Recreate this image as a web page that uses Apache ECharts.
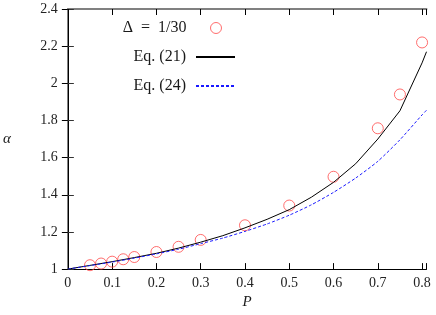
<!DOCTYPE html>
<html>
<head>
<meta charset="utf-8">
<script src="https://cdn.jsdelivr.net/npm/echarts@6/dist/echarts.min.js"></script>
<style>html,body{margin:0;padding:0;background:#fff}#c{width:436px;height:315px}</style>
</head>
<body>
<div id="c"></div>
<script>
// Simulation points, Delta = 1/30
const simP     = [0.05, 0.075, 0.1, 0.125, 0.15, 0.2, 0.25, 0.3, 0.4, 0.5, 0.6, 0.7, 0.75, 0.8];
const simAlpha = [1.021, 1.03, 1.04, 1.053, 1.065, 1.092, 1.12, 1.157, 1.236, 1.342, 1.497, 1.758, 1.94, 2.22];
// Eq. (21)
const eq21P     = [0, 0.05, 0.1, 0.15, 0.2, 0.25, 0.3, 0.35, 0.4, 0.45, 0.5, 0.55, 0.6, 0.65, 0.7, 0.75, 0.8, 0.81];
const eq21Alpha = [1, 1.02, 1.04, 1.062, 1.085, 1.113, 1.145, 1.18, 1.222, 1.268, 1.32, 1.387, 1.467, 1.567, 1.70, 1.852, 2.11, 2.17];
// Eq. (24)
const eq24P     = [0, 0.05, 0.1, 0.15, 0.2, 0.25, 0.3, 0.35, 0.4, 0.45, 0.5, 0.55, 0.6, 0.65, 0.7, 0.75, 0.8, 0.81];
const eq24Alpha = [1, 1.019, 1.038, 1.059, 1.082, 1.107, 1.137, 1.167, 1.203, 1.243, 1.29, 1.346, 1.413, 1.49, 1.58, 1.696, 1.83, 1.855];
// Axis ticks
const xTicks = { min: 0, max: 0.81, interval: 0.1 };
const yTicks = { min: 1, max: 2.4, interval: 0.2 };
const names = ['\u0394\u2002=\u20021/30', 'Eq. (21)', 'Eq. (24)'];

const zip = (a, b) => a.map((v, i) => [v, b[i]]);
const font = 'Liberation Serif';
const chart = echarts.init(document.getElementById('c'), null, { renderer: 'canvas' });

const legendText = (padRight) => ({ fontFamily: font, fontSize: 16, color: '#1a1a1a', lineHeight: 15, padding: [0, padRight, 0, 0] });
const legendBase = {
  orient: 'horizontal', align: 'right', right: 200, padding: 0,
  itemWidth: 39, itemHeight: 11, itemGap: 0,
  selectedMode: false,
  textStyle: legendText(5)
};

chart.setOption({
  animation: false,
  backgroundColor: '#fff',
  grid: { left: 67, right: 9.5, top: 9, bottom: 42, containLabel: false },
  legend: [
    Object.assign({}, legendBase, { top: 20, right: 214, itemWidth: 11, textStyle: legendText(19),
      data: [{ name: names[0], itemStyle: { borderWidth: 1 } }] }),
    Object.assign({}, legendBase, { top: 49, data: [{ name: names[1], itemStyle: { opacity: 0 } }] }),
    Object.assign({}, legendBase, { top: 78, data: [{ name: names[2], itemStyle: { opacity: 0 } }] })
  ],
  xAxis: [{
    type: 'value', position: 'bottom', min: xTicks.min, max: xTicks.max, interval: xTicks.interval,
    name: 'P', nameLocation: 'middle', nameGap: 16,
    nameTextStyle: { fontFamily: font, fontStyle: 'italic', fontSize: 15, color: '#1a1a1a' },
    axisLine: { lineStyle: { color: '#000', width: 1 } },
    axisTick: { inside: true, length: 6, lineStyle: { color: '#000' } },
    axisLabel: { margin: 7, fontFamily: font, fontSize: 14, color: '#222',
      formatter: v => v > 0.805 ? '' : String(+v.toFixed(1)) },
    splitLine: { show: false }
  }, {
    type: 'value', position: 'top', min: xTicks.min, max: xTicks.max, interval: xTicks.interval,
    axisLine: { lineStyle: { color: '#808080', width: 2 } },
    axisTick: { inside: true, length: 6, lineStyle: { color: '#000' } },
    axisLabel: { show: false }, splitLine: { show: false }
  }],
  yAxis: [{
    type: 'value', position: 'left', min: yTicks.min, max: yTicks.max, interval: yTicks.interval,
    name: '\u03b1', nameLocation: 'middle', nameGap: 57, nameRotate: 0,
    nameTextStyle: { fontFamily: font, fontStyle: 'italic', fontSize: 15, color: '#1a1a1a' },
    axisLine: { lineStyle: { color: '#808080', width: 2 } },
    axisTick: { inside: true, length: 6, lineStyle: { color: '#333' } },
    axisLabel: { margin: 10, fontFamily: font, fontSize: 14, color: '#222',
      formatter: v => String(+v.toFixed(1)) },
    splitLine: { show: false }
  }, {
    type: 'value', position: 'right', min: yTicks.min, max: yTicks.max, interval: yTicks.interval,
    axisLine: { lineStyle: { color: '#000', width: 1 } },
    axisTick: { inside: true, length: 6, lineStyle: { color: '#000' } },
    axisLabel: { show: false }, splitLine: { show: false }
  }],
  series: [{
    name: names[0], type: 'scatter', xAxisIndex: 0, yAxisIndex: 0,
    data: zip(simP, simAlpha), symbol: 'circle', symbolSize: 11,
    itemStyle: { color: 'rgba(255,255,255,0)', borderColor: '#ff4a4a', borderWidth: 1 },
    z: 2
  }, {
    name: names[1], type: 'line', xAxisIndex: 0, yAxisIndex: 0,
    data: zip(eq21P, eq21Alpha), symbol: 'none', showSymbol: false,
    lineStyle: { color: '#000', width: 1 }, itemStyle: { color: '#000' },
    z: 3
  }, {
    name: names[2], type: 'line', xAxisIndex: 0, yAxisIndex: 0,
    data: zip(eq24P, eq24Alpha), symbol: 'none', showSymbol: false, smooth: 0.2,
    lineStyle: { color: '#1a1aff', width: 1, type: [3, 2] }, itemStyle: { color: '#1a1aff' },
    z: 4
  }]
});
</script>
</body>
</html>
